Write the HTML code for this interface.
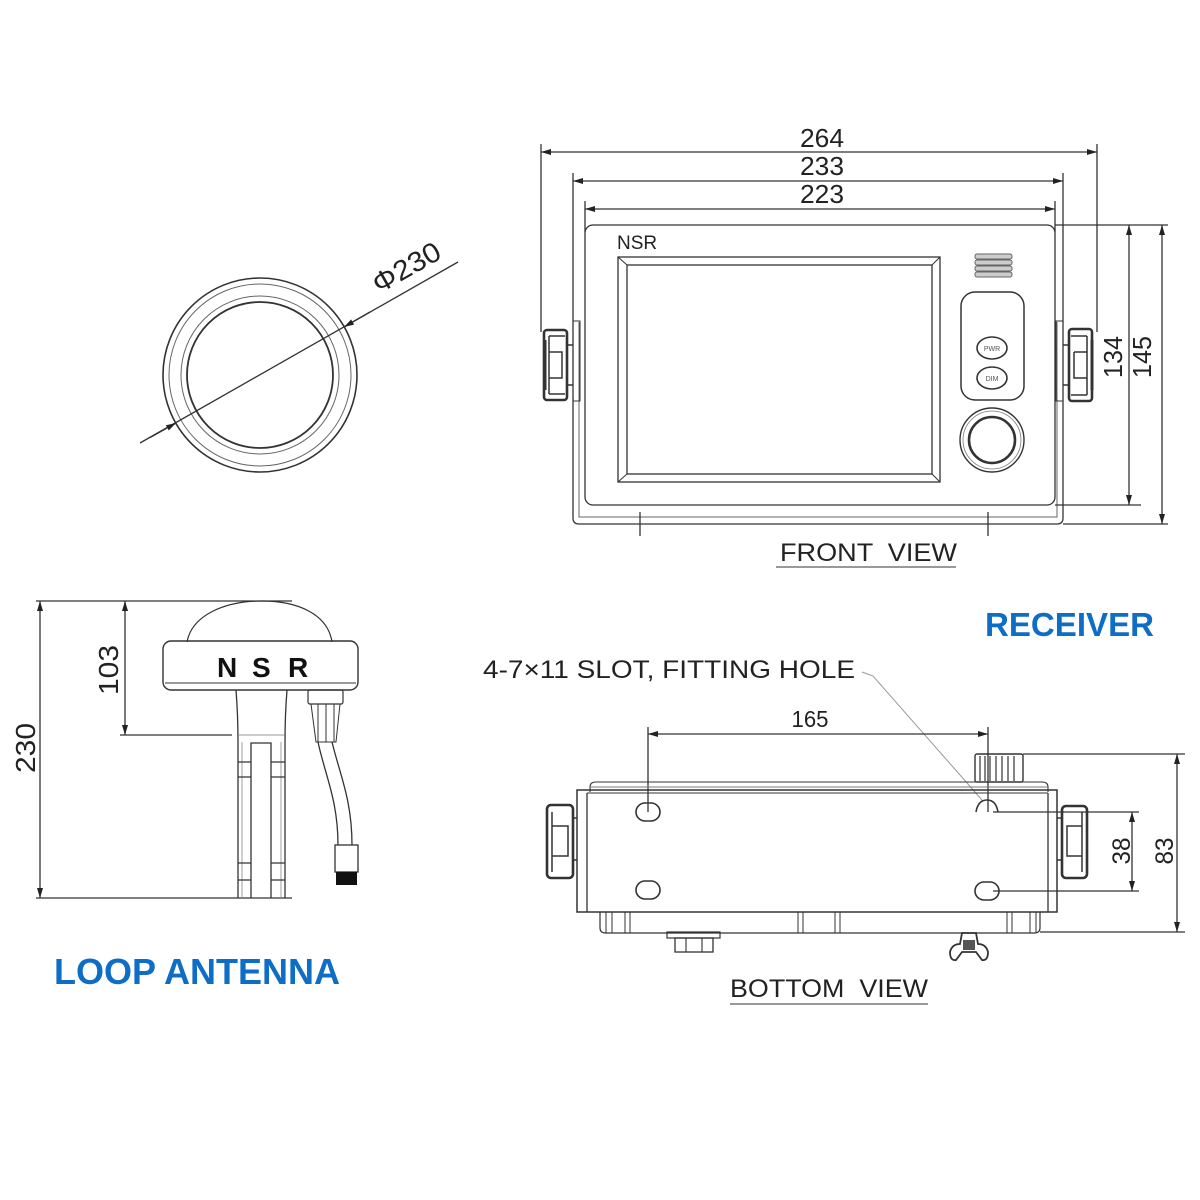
<!DOCTYPE html>
<html><head><meta charset="utf-8"><style>
html,body{margin:0;padding:0;background:#fff;}
svg{display:block;}
text{font-family:"Liberation Sans",Arial,sans-serif;}
</style></head><body>
<svg width="1200" height="1200" viewBox="0 0 1200 1200" xmlns="http://www.w3.org/2000/svg">
<defs>
<marker id="ar" viewBox="0 0 10 6" refX="10" refY="3" markerWidth="10" markerHeight="6" markerUnits="userSpaceOnUse" orient="auto-start-reverse"><path d="M0,0 L10,3 L0,6 z" fill="#222"/></marker>
</defs>
<rect width="1200" height="1200" fill="#fff"/>

<!-- ============ FRONT VIEW ============ -->
<g stroke="#333" stroke-width="1.3" fill="none">
  <line x1="541" y1="152" x2="1097" y2="152" marker-start="url(#ar)" marker-end="url(#ar)"/>
  <line x1="541" y1="144" x2="541" y2="332"/>
  <line x1="1097" y1="144" x2="1097" y2="332"/>
  <line x1="573" y1="181" x2="1063" y2="181" marker-start="url(#ar)" marker-end="url(#ar)"/>
  <line x1="573" y1="173" x2="573" y2="322"/>
  <line x1="1063" y1="173" x2="1063" y2="322"/>
  <line x1="585" y1="209" x2="1055" y2="209" marker-start="url(#ar)" marker-end="url(#ar)"/>
  <line x1="585" y1="201" x2="585" y2="232"/>
  <line x1="1055" y1="201" x2="1055" y2="232"/>

  <rect x="585" y="225" width="470" height="280" rx="8"/>
  <path d="M573,322 V518 Q573,524 579,524 H1057 Q1063,524 1063,518 V322"/>
  <path d="M579,322 V517 H1057 V322" stroke="#666" stroke-width="1"/>
  <rect x="573" y="321" width="7" height="80" stroke-width="1"/>
  <rect x="1056" y="321" width="7" height="80" stroke-width="1"/>
  <line x1="640" y1="512" x2="640" y2="536"/>
  <line x1="988" y1="512" x2="988" y2="536"/>

  <rect x="544" y="330" width="23" height="70" rx="3" stroke-width="2.6"/>
  <path d="M549,336 H565 M549,394 H565 M549,336 V394 M549,352 H562 V378 H549 M567,345 H573 M567,385 H573" stroke-width="1.5"/>
  <line x1="545" y1="340" x2="545" y2="390" stroke-width="3"/>
  <rect x="1069" y="329" width="23" height="72" rx="3" stroke-width="2.6"/>
  <path d="M1071,336 H1087 M1071,395 H1087 M1087,336 V395 M1074,352 H1087 M1074,352 V378 H1087 M1063,345 H1069 M1063,385 H1069" stroke-width="1.5"/>
  <line x1="1092" y1="340" x2="1092" y2="390" stroke-width="3"/>

  <rect x="618" y="257" width="322" height="225"/>
  <rect x="627" y="265" width="305" height="209"/>
  <path d="M618,257 L627,265 M940,257 L932,265 M618,482 L627,474 M940,482 L932,474" stroke-width="1"/>

  <g fill="#ccc" stroke="#666" stroke-width="1">
    <rect x="975" y="254" width="37" height="5" rx="2"/>
    <rect x="975" y="260" width="37" height="5" rx="2"/>
    <rect x="975" y="266" width="37" height="5" rx="2"/>
    <rect x="975" y="272" width="37" height="5" rx="2"/>
  </g>
  <rect x="961" y="292" width="63" height="108" rx="14" stroke-width="1.5"/>
  <ellipse cx="992" cy="348" rx="15" ry="11" stroke-width="1.6"/>
  <ellipse cx="992" cy="378" rx="15" ry="11" stroke-width="1.6"/>
  <circle cx="992" cy="440" r="32" stroke-width="1.4"/>
  <circle cx="992" cy="440" r="29" stroke-width="0.8" stroke="#777"/>
  <circle cx="992" cy="440" r="23" stroke-width="2.6"/>

  <line x1="1129" y1="225" x2="1129" y2="505" marker-start="url(#ar)" marker-end="url(#ar)"/>
  <line x1="1055" y1="225" x2="1168" y2="225"/>
  <line x1="1055" y1="505" x2="1141" y2="505"/>
  <line x1="1162" y1="225" x2="1162" y2="524" marker-start="url(#ar)" marker-end="url(#ar)"/>
  <line x1="1063" y1="524" x2="1168" y2="524"/>

  <line x1="776" y1="567" x2="956" y2="567" stroke="#999" stroke-width="2"/>
</g>
<g fill="#222" font-size="26">
  <text x="822" y="147" text-anchor="middle" textLength="44" lengthAdjust="spacingAndGlyphs">264</text>
  <text x="822" y="175" text-anchor="middle" textLength="44" lengthAdjust="spacingAndGlyphs">233</text>
  <text x="822" y="203" text-anchor="middle" textLength="44" lengthAdjust="spacingAndGlyphs">223</text>
  <text transform="translate(1122,357) rotate(-90)" text-anchor="middle" textLength="42" lengthAdjust="spacingAndGlyphs">134</text>
  <text transform="translate(1151,357) rotate(-90)" text-anchor="middle" textLength="42" lengthAdjust="spacingAndGlyphs">145</text>
  <text x="617" y="249" font-size="19">NSR</text>
  <text x="780" y="561" font-size="25" textLength="177" lengthAdjust="spacingAndGlyphs" xml:space="preserve">FRONT  VIEW</text>
  <text x="992" y="351" font-size="7" text-anchor="middle" fill="#555">PWR</text>
  <text x="992" y="381" font-size="7" text-anchor="middle" fill="#555">DIM</text>
</g>

<!-- ============ ANTENNA TOP VIEW ============ -->
<g stroke="#333" fill="none">
  <circle cx="260" cy="375" r="97" stroke-width="1.6"/>
  <circle cx="260" cy="375" r="91" stroke-width="1" stroke="#666"/>
  <circle cx="260" cy="375" r="79" stroke-width="1" stroke="#666"/>
  <circle cx="260" cy="375" r="73" stroke-width="1.8"/>
  <line x1="140" y1="443" x2="458" y2="262" stroke-width="1.3"/>
  <line x1="150" y1="437.5" x2="176" y2="423" stroke-width="1.3" marker-end="url(#ar)"/>
  <line x1="370" y1="312" x2="344" y2="327" stroke-width="1.3" marker-end="url(#ar)"/>
</g>
<text transform="translate(379,294) rotate(-29.65)" font-size="28" fill="#222" textLength="74" lengthAdjust="spacingAndGlyphs">Φ230</text>

<!-- ============ ANTENNA SIDE VIEW ============ -->
<g stroke="#333" stroke-width="1.3" fill="none">
  <line x1="40" y1="601" x2="40" y2="898" marker-start="url(#ar)" marker-end="url(#ar)"/>
  <line x1="36" y1="601" x2="292" y2="601"/>
  <line x1="36" y1="898" x2="292" y2="898"/>
  <line x1="125" y1="601" x2="125" y2="735" marker-start="url(#ar)" marker-end="url(#ar)"/>
  <line x1="120" y1="735" x2="232" y2="735"/>

  <path d="M187,642 C192,615 225,601 262,601 C299,601 328,615 332,642" stroke-width="1.2"/>
  <rect x="163" y="641" width="195" height="49" rx="8" stroke-width="1.4"/>
  <line x1="165" y1="683" x2="356" y2="683" stroke-width="1"/>
  <path d="M236,690 Q238,715 238,742 V898 M287,690 Q285,715 285,742 V898" stroke-width="1.3"/>
  <path d="M242,742 V898 M281,742 V898" stroke="#888" stroke-width="0.8"/>
  <path d="M251,898 V743 H271 V898" stroke-width="1.3"/>
  <line x1="238" y1="735" x2="285" y2="735" stroke="#777" stroke-width="0.8"/>
  <path d="M238,762 H251 M238,777 H251 M271,762 H285 M271,777 H285 M238,863 H251 M238,880 H251 M271,863 H285 M271,880 H285" stroke-width="1.2"/>
  <rect x="308" y="690" width="35" height="14" rx="2" stroke-width="1.2"/>
  <path d="M311,704 L316,742 H336 L340,704 M318,704 V742 M334,704 V742 M326,704 V742" stroke-width="1"/>
  <path d="M318,742 C325,775 338,800 338,845 M332,742 C340,775 352,800 352,845" stroke-width="1.3"/>
  <rect x="335" y="845" width="23" height="27" stroke-width="1.3"/>
</g>
<rect x="336" y="872" width="21" height="13" fill="#111"/>
<g font-size="28" fill="#222">
  <text transform="translate(35,748) rotate(-90)" text-anchor="middle" textLength="50" lengthAdjust="spacingAndGlyphs">230</text>
  <text transform="translate(118,670) rotate(-90)" text-anchor="middle" textLength="50" lengthAdjust="spacingAndGlyphs">103</text>
</g>
<g font-size="28" font-weight="bold" fill="#111">
  <text x="217" y="677">N</text>
  <text x="252" y="677">S</text>
  <text x="288" y="677">R</text>
</g>

<!-- ============ BOTTOM VIEW ============ -->
<g stroke="#333" stroke-width="1.3" fill="none">
  <path d="M862,672 L873,676 L982,800" stroke="#999" stroke-width="1"/>
  <line x1="648" y1="734" x2="988" y2="734" marker-start="url(#ar)" marker-end="url(#ar)"/>
  <line x1="648" y1="727" x2="648" y2="812"/>
  <line x1="988" y1="727" x2="988" y2="812"/>
  <rect x="975" y="754" width="48" height="28" rx="2" stroke-width="1.4"/>
  <path d="M980,756 V781 M985,756 V781 M990,756 V781 M996,756 V781 M1002,756 V781 M1008,756 V781 M1014,756 V781" stroke-width="1.2"/>
  <path d="M590,792 V787 Q590,782 596,782 H1042 Q1048,782 1048,787 V792" stroke-width="1.1"/>
  <line x1="590" y1="787" x2="1048" y2="787" stroke="#777" stroke-width="0.9"/>
  <rect x="577" y="790" width="480" height="122" stroke-width="1.5"/>
  <line x1="587" y1="793" x2="587" y2="912"/>
  <line x1="1048" y1="793" x2="1048" y2="912"/>
  <line x1="587" y1="793" x2="1048" y2="793" stroke-width="1"/>
  <rect x="636" y="803" width="24" height="18" rx="9" stroke-width="1.6"/>
  <rect x="636" y="881" width="24" height="18" rx="9" stroke-width="1.6"/>
  <rect x="975" y="882" width="24" height="18" rx="9" stroke-width="1.6"/>
  <path d="M976,812 Q978,800 987,800 Q996,800 998,812" stroke-width="1.6"/>
  <rect x="547" y="805" width="26" height="73" rx="4" stroke-width="2.6"/>
  <path d="M552,812 V872 M552,826 H568 V856 H552 M573,818 H577 M573,860 H577" stroke-width="1.5"/>
  <rect x="1062" y="806" width="25" height="72" rx="4" stroke-width="2.6"/>
  <path d="M1082,812 V872 M1082,826 H1067 V856 H1082 M1057,818 H1062 M1057,860 H1062" stroke-width="1.5"/>
  <path d="M600,912 V928 Q600,933 606,933 H1034 Q1040,933 1040,928 V912" stroke-width="1.2"/>
  <path d="M606,912 V933 M612,912 V933 M625,912 V933 M630,912 V933 M798,912 V933 M803,912 V933 M835,912 V933 M840,912 V933 M1007,912 V933 M1012,912 V933 M1030,912 V933 M1036,912 V933" stroke-width="1"/>
  <rect x="667" y="932" width="53" height="6" stroke-width="1.2"/>
  <rect x="675" y="938" width="38" height="14" stroke-width="1.3"/>
  <path d="M686,938 V952 M702,938 V952" stroke-width="1.1"/>
  <path d="M962,933 H976 L978,944 Q986,944 988,952 Q988,961 982,960 L976,952 H962 L956,960 Q950,961 950,952 Q952,944 960,944 Z" stroke-width="1.8"/>
  <rect x="963" y="940" width="12" height="10" fill="#555" stroke="none"/>
  <line x1="1132" y1="812" x2="1132" y2="891" marker-start="url(#ar)" marker-end="url(#ar)"/>
  <line x1="993" y1="812" x2="1139" y2="812"/>
  <line x1="993" y1="891" x2="1139" y2="891"/>
  <line x1="1177" y1="754" x2="1177" y2="932" marker-start="url(#ar)" marker-end="url(#ar)"/>
  <line x1="1023" y1="754" x2="1185" y2="754"/>
  <line x1="1040" y1="932" x2="1185" y2="932"/>

  <line x1="730" y1="1004" x2="928" y2="1004" stroke="#999" stroke-width="2"/>
</g>
<g fill="#222" font-size="25">
  <text x="483" y="678" textLength="372" lengthAdjust="spacingAndGlyphs">4-7×11 SLOT, FITTING HOLE</text>
  <text x="810" y="727" text-anchor="middle" font-size="23" textLength="37" lengthAdjust="spacingAndGlyphs">165</text>
  <text transform="translate(1130,851) rotate(-90)" text-anchor="middle" textLength="27" lengthAdjust="spacingAndGlyphs">38</text>
  <text transform="translate(1173,851) rotate(-90)" text-anchor="middle" textLength="27" lengthAdjust="spacingAndGlyphs">83</text>
  <text x="730" y="997" textLength="198" lengthAdjust="spacingAndGlyphs" xml:space="preserve">BOTTOM  VIEW</text>
</g>

<!-- ============ TITLES ============ -->
<text x="985" y="636" font-size="33" font-weight="bold" fill="#0e6dc5" textLength="169" lengthAdjust="spacingAndGlyphs">RECEIVER</text>
<text x="54" y="984" font-size="36" font-weight="bold" fill="#0e6dc5" textLength="286" lengthAdjust="spacingAndGlyphs">LOOP ANTENNA</text>
</svg>
</body></html>
